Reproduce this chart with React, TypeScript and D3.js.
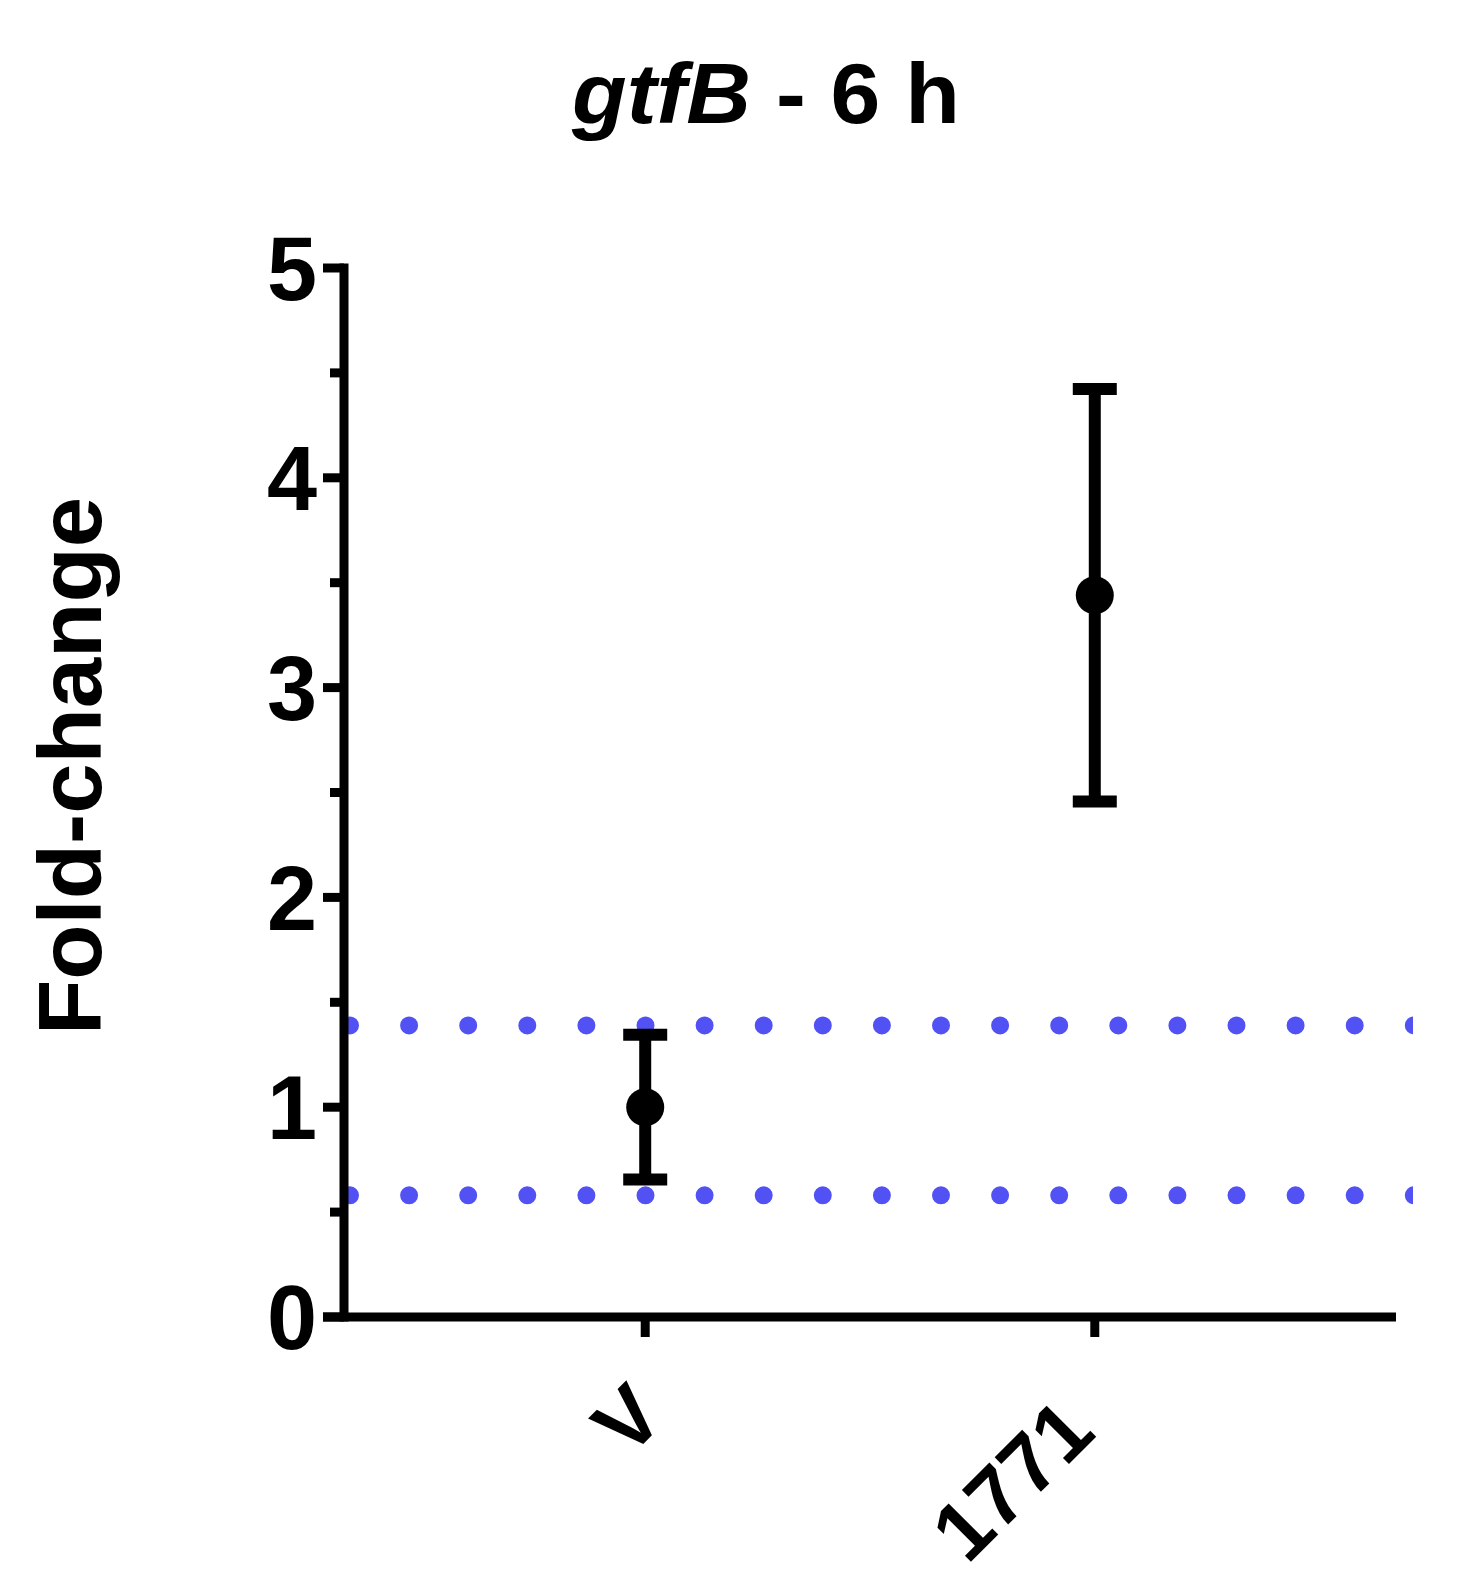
import React from "react";
import * as d3 from "d3";

const categories = ["V", "1771"];
const means = [1.0, 3.44];
const errors = [0.345, 0.983];
const refLines = [1.39, 0.58];
const yMajorTicks = [0, 1, 2, 3, 4, 5];
const yMinorTicks = [0.5, 1.5, 2.5, 3.5, 4.5];
const titleItalic = "gtfB";
const titleRest = " - 6 h";
const yLabel = "Fold-change";

const W = 1462;
const H = 1591;
const left = 344;
const right = 1396;
const top = 268;
const bottom = 1317;
const FONT = "'Liberation Sans', Arial, Helvetica, sans-serif";

export default function App() {
  const x = d3.scalePoint<string>().domain(categories).range([left, right]).padding(0.67);
  const y = d3.scaleLinear().domain([0, 5]).range([bottom, top]);
  const sw = 9;
  const ebw = 12;
  const capHalf = 22;
  const dotR = 9;
  const dotStart = left + 6;
  const dotEnd = 1413;
  const dotGap = 59.1;
  const xlf = 83;
  const labelDx = [22, 3];
  const labelDy = [103, 118];

  return (
    <svg width={W} height={H} style={{ position: "absolute", left: 0, top: 0, background: "#fff" }}>
      <defs>
        <clipPath id="plotclip">
          <rect x={left} y={0} width={dotEnd - left} height={H} />
        </clipPath>
      </defs>
      <rect x={0} y={0} width={W} height={H} fill="#fff" />
      {/* title */}
      <text
        x={766}
        y={123}
        textAnchor="middle"
        fontFamily={FONT}
        fontWeight="bold"
        fontSize={86}
        fill="#000"
        textLength={388}
        lengthAdjust="spacingAndGlyphs"
      >
        <tspan fontStyle="italic">{titleItalic}</tspan>
        <tspan>{titleRest}</tspan>
      </text>
      {/* y label */}
      <text
        transform={`translate(101, 766) rotate(-90)`}
        textAnchor="middle"
        fontFamily={FONT}
        fontWeight="bold"
        fontSize={89}
        fill="#000"
        textLength={538}
        lengthAdjust="spacingAndGlyphs"
      >
        {yLabel}
      </text>
      {/* reference dotted lines */}
      <g clipPath="url(#plotclip)">
        {refLines.map((v, i) => (
          <line
            key={i}
            x1={dotStart}
            x2={dotEnd + dotGap}
            y1={y(v)}
            y2={y(v)}
            stroke="#5252F4"
            strokeWidth={dotR * 2}
            strokeLinecap="round"
            strokeDasharray={`0 ${dotGap}`}
          />
        ))}
      </g>
      {/* axes */}
      <line x1={left} x2={left} y1={bottom + sw / 2} y2={top - sw / 2} stroke="#000" strokeWidth={sw} />
      <line x1={left - 21} x2={right} y1={bottom} y2={bottom} stroke="#000" strokeWidth={sw} />
      {yMajorTicks.map((t) => (
        <g key={"M" + t}>
          <line x1={left - 21} x2={left} y1={y(t)} y2={y(t)} stroke="#000" strokeWidth={sw} />
          <text
            x={317}
            y={y(t) + 0.358 * 90}
            textAnchor="end"
            fontFamily={FONT}
            fontWeight="bold"
            fontSize={90}
            fill="#000"
          >
            {t}
          </text>
        </g>
      ))}
      {yMinorTicks.map((t) => (
        <line key={"m" + t} x1={left - 14} x2={left} y1={y(t)} y2={y(t)} stroke="#000" strokeWidth={sw} />
      ))}
      {categories.map((c, i) => (
        <g key={"x" + c}>
          <line x1={x(c)} x2={x(c)} y1={bottom} y2={bottom + 20} stroke="#000" strokeWidth={sw} />
          <text
            transform={`translate(${(x(c) as number) + labelDx[i]}, ${bottom + labelDy[i]}) rotate(-45)`}
            textAnchor="end"
            fontFamily={FONT}
            fontWeight="bold"
            fontSize={xlf}
            fill="#000"
          >
            {c}
          </text>
        </g>
      ))}
      {/* error bars and means */}
      {categories.map((c, i) => {
        const cx = x(c) as number;
        const hi = y(means[i] + errors[i]);
        const lo = y(means[i] - errors[i]);
        return (
          <g key={"e" + c}>
            <line x1={cx} x2={cx} y1={hi} y2={lo} stroke="#000" strokeWidth={ebw} />
            <line x1={cx - capHalf} x2={cx + capHalf} y1={hi} y2={hi} stroke="#000" strokeWidth={ebw} />
            <line x1={cx - capHalf} x2={cx + capHalf} y1={lo} y2={lo} stroke="#000" strokeWidth={ebw} />
            <circle cx={cx} cy={y(means[i])} r={19} fill="#000" />
          </g>
        );
      })}
    </svg>
  );
}
